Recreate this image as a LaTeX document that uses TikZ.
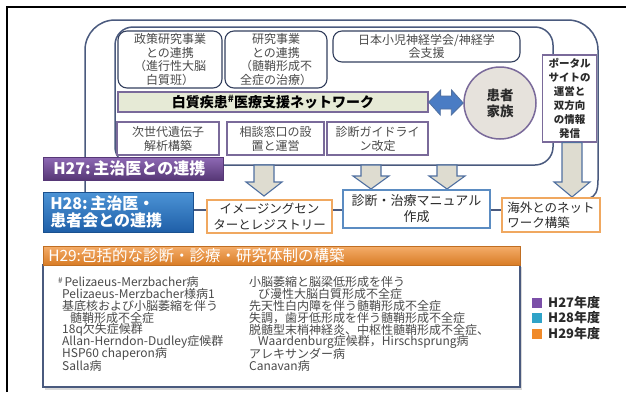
\documentclass[tikz,border=0pt]{standalone}
\usepackage{fontspec}
\setmainfont{Noto Sans CJK JP}
\definecolor{navy}{HTML}{34405E}
\definecolor{lineblue}{HTML}{4A5A7E}
\definecolor{pgray}{HTML}{7A6A9A}
\definecolor{txt}{HTML}{4A4A4A}
\definecolor{dtxt}{HTML}{2A2A2A}
\definecolor{greenfill}{HTML}{E6EAD6}
\definecolor{circfill}{HTML}{E6E2DC}
\definecolor{arrfill}{HTML}{DEDCD0}
\definecolor{arrline}{HTML}{5070A0}
\definecolor{dblue}{HTML}{4A7CC4}
\definecolor{orgline}{HTML}{F0A860}
\definecolor{bluebox}{HTML}{5B8CC2}
\definecolor{h28top}{HTML}{4C94D6}
\definecolor{h28bot}{HTML}{1F5FA8}
\definecolor{legpurple}{HTML}{7B4FA8}
\definecolor{legteal}{HTML}{2FA3C8}
\definecolor{legorange}{HTML}{F08A2A}
\newcommand{\blkdown}[6]{\draw[blockarr] (#1-#5,#2) -- (#1+#5,#2) -- (#1+#5,#3) -- (#1+#6,#3) -- (#1,#4) -- (#1-#6,#3) -- (#1-#5,#3) -- cycle;}
\begin{document}
\begin{tikzpicture}[x=1pt,y=-1pt,
  frameline/.style={line width=1.5, draw=lineblue},
  topbox/.style={draw=navy, line width=1.1, rounded corners=9, fill=white, align=center, text=txt, font=\fontsize{12}{13.5}\selectfont, inner sep=1},
  lowbox/.style={draw=pgray, line width=1.2, fill=white, align=center, text=txt, font=\fontsize{12}{14}\selectfont, inner sep=1},
  orgbox/.style={draw=orgline, line width=1.5, fill=white, text=dtxt, font=\fontsize{12.5}{15.5}\selectfont, inner sep=1},
  bluebx/.style={draw=bluebox, line width=1.5, fill=white, align=center, text=dtxt, font=\fontsize{13}{16}\selectfont, inner sep=1},
  blockarr/.style={draw=arrline, line width=1.1, fill=arrfill},
  conn/.style={draw=lineblue, line width=1.5},
  yearlbl/.style={text=white, font=\bfseries\fontsize{16}{17}\selectfont, align=left, inner ysep=0},
  lst/.style={anchor=west, inner sep=0, text=txt, font=\fontsize{12}{12}\selectfont},
  legsq/.style={minimum size=10, inner sep=0},
  legtxt/.style={anchor=west, inner sep=0, text=dtxt, font=\bfseries\fontsize{13}{13}\selectfont}
]
\useasboundingbox (0,0) rectangle (626,392);
\fill[white] (0,0) rectangle (626,392);
% black frame
\draw[line width=2.5, black] (7,392) -- (7,7) -- (626,7);

% outer rounded frame
\draw[frameline, rounded corners=30] (85,192) -- (85,20) -- (598,20) -- (598,180);
\draw[frameline] (598,180) .. controls (598,192) and (595,196) .. (590,198);
% inner rounded frame
\draw[frameline, rounded corners=18] (115,27) rectangle (553,165);

% top row
\node[topbox, minimum width=104, minimum height=57] (tb1) at (170,59.5) {政策研究事業\\との連携\\（進行性大脳\\白質班）};
\node[topbox, minimum width=102, minimum height=57] (tb2) at (276,59.5) {研究事業\\との連携\\（髄鞘形成不\\全症の治療）};
\node[topbox, minimum width=187, minimum height=31] (tb3) at (426.5,46.5) {日本小児神経学会/神経学\\会支援};

% network bar
\node[draw=pgray, line width=1.2, fill=greenfill, minimum width=310, minimum height=20, inner sep=0, text=black, font=\bfseries\fontsize{14}{15}\selectfont] (net) at (273,102) {白質疾患\textsuperscript{\#}医療支援ネットワーク};

% patient circle
\node[circle, draw=pgray, line width=1.5, fill=circfill, minimum size=72, inner sep=0, align=center, text=dtxt, font=\bfseries\fontsize{13.5}{16}\selectfont] (pat) at (500,103) {患者\\家族};

% double arrow between network and patients
\draw[draw=arrline, line width=0.8, fill=dblue] (net.east) -- ++(12,-12) -- ++(0,6) -- ++(11,0) -- ++(0,-6) -- (pat.west) -- ++(-12,12) -- ++(0,-6) -- ++(-11,0) -- ++(0,6) -- cycle;

% portal box
\node[draw=pgray, line width=1.2, fill=white, minimum width=54, minimum height=87, inner sep=0, align=center, text=dtxt, font=\bfseries\fontsize{10.5}{14}\selectfont] (portal) at (569.5,98.5) {ポータル\\サイトの\\運営と\\双方向\\の情報\\発信};

% bottom row in inner frame
\node[lowbox, minimum width=102, minimum height=33] (bb1) at (168,138.5) {次世代遺伝子\\解析構築};
\node[lowbox, minimum width=97, minimum height=33] (bb2) at (275.5,138.5) {相談窓口の設\\置と運営};
\node[lowbox, minimum width=101, minimum height=33] (bb3) at (377.5,138.5) {診断ガイドライ\\ン改定};

% block arrows
\blkdown{264}{165}{182}{196}{10}{18}
\blkdown{371}{165}{176}{189}{10}{18}
\blkdown{447}{165}{176}{189}{10}{18}
\blkdown{572}{142.5}{182}{197}{10}{18}

% H27 label
\node[yearlbl, top color=legpurple!85!white, bottom color=legpurple!70!black, draw=legpurple!70!black, line width=0.6, anchor=west, minimum height=23, text width=160, inner xsep=10] (h27) at (43,168.5) {H27:\,主治医との連携};
% H28 label
\node[yearlbl, top color=h28top, bottom color=h28bot, draw=h28bot!85!black, line width=0.6, anchor=west, minimum height=40, text width=136, inner xsep=7] (h28) at (43,212) {H28:\,主治医・\\患者会との連携};

% second level boxes
\node[orgbox, align=center, minimum width=125, minimum height=33] (img) at (269.5,216.5) {イメージングセン\\ターとレジストリー};
\node[bluebx, minimum width=147, minimum height=38] (diag) at (416.5,209) {診断・治療マニュアル\\作成};
\node[orgbox, align=left, minimum width=98, minimum height=34] (intl) at (551,215) {海外とのネット\\ワーク構築};

\draw[conn] (h28.east |- 0,210) -- (img.west |- 0,210);
\draw[conn] (img.east |- 0,210) -- (diag.west |- 0,210);
\draw[conn] (diag.east |- 0,210) -- (intl.west |- 0,210);

% H29
\fill[gray!30] (45,267) rectangle (522,389.5);
\node[draw=lineblue, line width=1.5, fill=white, minimum width=477, minimum height=122, inner sep=0] (lstbox) at (281.5,326) {};
\node[top color=legorange!70!white, bottom color=legorange!90!black, draw=legorange!80!black, line width=0.5, anchor=west, minimum height=19, text width=467, inner xsep=5, inner ysep=0, text=white, font=\fontsize{15.5}{16}\selectfont] (h29) at (43,255.5) {H29:包括的な診断・診療・研究体制の構築};

% list left column
\node[lst] (l1) at (58,282) {{\fontsize{8}{8}\selectfont\raisebox{3pt}{\#}}\,Pelizaeus-Merzbacher病};
\node[lst] (l2) at (62,294) {Pelizaeus-Merzbacher様病1};
\node[lst] (l3) at (62,306) {基底核および小脳萎縮を伴う};
\node[lst] (l4) at (70,318) {髄鞘形成不全症};
\node[lst] (l5) at (62,330) {18q欠失症候群};
\node[lst] (l6) at (62,342) {Allan-Herndon-Dudley症候群};
\node[lst] (l7) at (62,354) {HSP60 chaperon病};
\node[lst] (l8) at (62,366) {Salla病};
% list right column
\node[lst] (r1) at (249,282) {小脳萎縮と脳梁低形成を伴う};
\node[lst] (r2) at (258,294) {び漫性大脳白質形成不全症};
\node[lst] (r3) at (249,306) {先天性白内障を伴う髄鞘形成不全症};
\node[lst] (r4) at (249,318) {失調，歯牙低形成を伴う髄鞘形成不全症};
\node[lst] (r5) at (249,330) {脱髄型末梢神経炎、中枢性髄鞘形成不全症、};
\node[lst] (r6) at (258,342) {Waardenburg症候群，Hirschsprung病};
\node[lst] (r7) at (249,354) {アレキサンダー病};
\node[lst] (r8) at (249,366) {Canavan病};

% legend
\node[legsq, fill=legpurple] (q1) at (537,303) {};
\node[legsq, fill=legteal] (q2) at (537,318) {};
\node[legsq, fill=legorange] (q3) at (537,334) {};
\node[legtxt] (t1) at (548,303) {H27年度};
\node[legtxt] (t2) at (548,318) {H28年度};
\node[legtxt] (t3) at (548,334) {H29年度};
\end{tikzpicture}
\end{document}
